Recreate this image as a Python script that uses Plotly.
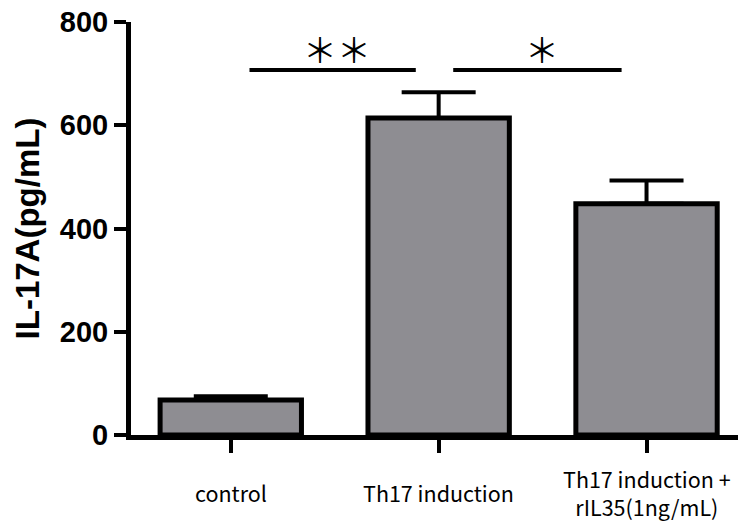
import plotly.graph_objects as go

categories = ["control", "Th17 induction", "Th17 induction +<br>rIL35(1ng/mL)"]
means = [68, 614, 448]
errors = [7, 50, 45]
y_ticks = [0, 200, 400, 600, 800]
sig_pairs = [(0.09, 0.89, "＊＊"), (1.07, 1.88, "＊")]
sig_line_y = 707
sig_text_y = 748

x_pos = list(range(len(categories)))

fig = go.Figure()
fig.add_trace(go.Bar(
    x=x_pos, y=means, width=0.68,
    marker=dict(color="#8e8d92", line=dict(color="black", width=5)),
    error_y=dict(type="data", symmetric=False, array=errors, arrayminus=[0]*len(errors),
                 color="black", thickness=4, width=37),
    showlegend=False,
))

for x0, x1, txt in sig_pairs:
    fig.add_shape(type="line", x0=x0, x1=x1, y0=sig_line_y, y1=sig_line_y,
                  xref="x", yref="y", line=dict(color="black", width=4))
    fig.add_annotation(x=(x0 + x1) / 2 + 0.02, y=sig_text_y, text=txt, showarrow=False,
                       font=dict(family="Noto Sans CJK JP", size=34, color="black"),
                       xref="x", yref="y")

for xi, label in zip(x_pos, categories):
    fig.add_annotation(x=xi, y=0, xref="x", yref="paper", text=label, showarrow=False,
                       yanchor="middle", yshift=-57, align="center",
                       font=dict(family="Noto Sans CJK JP", size=21.5, color="black"))

fig.update_layout(
    width=738, height=527,
    margin=dict(l=131, r=0, t=22, b=92),
    plot_bgcolor="white", paper_bgcolor="white",
    xaxis=dict(
        range=[-0.48, 2.44], tickmode="array", tickvals=x_pos, ticktext=["", "", ""],
        showline=True, linecolor="black", linewidth=5, ticks="outside", ticklen=13,
        tickwidth=4, tickcolor="black", showgrid=False, zeroline=False,
    ),
    yaxis=dict(
        range=[0, 800], tickmode="array", tickvals=y_ticks,
        showline=True, linecolor="black", linewidth=5, ticks="outside", ticklen=12,
        tickwidth=4, tickcolor="black", showgrid=False, zeroline=False,
        tickfont=dict(family="Liberation Sans", size=29, color="black", weight="bold"),
        title=dict(text="IL-17A(pg/mL)", standoff=12,
                   font=dict(family="Liberation Sans", size=33, color="black", weight="bold")),
    ),
)

fig.write_html("out.html")
